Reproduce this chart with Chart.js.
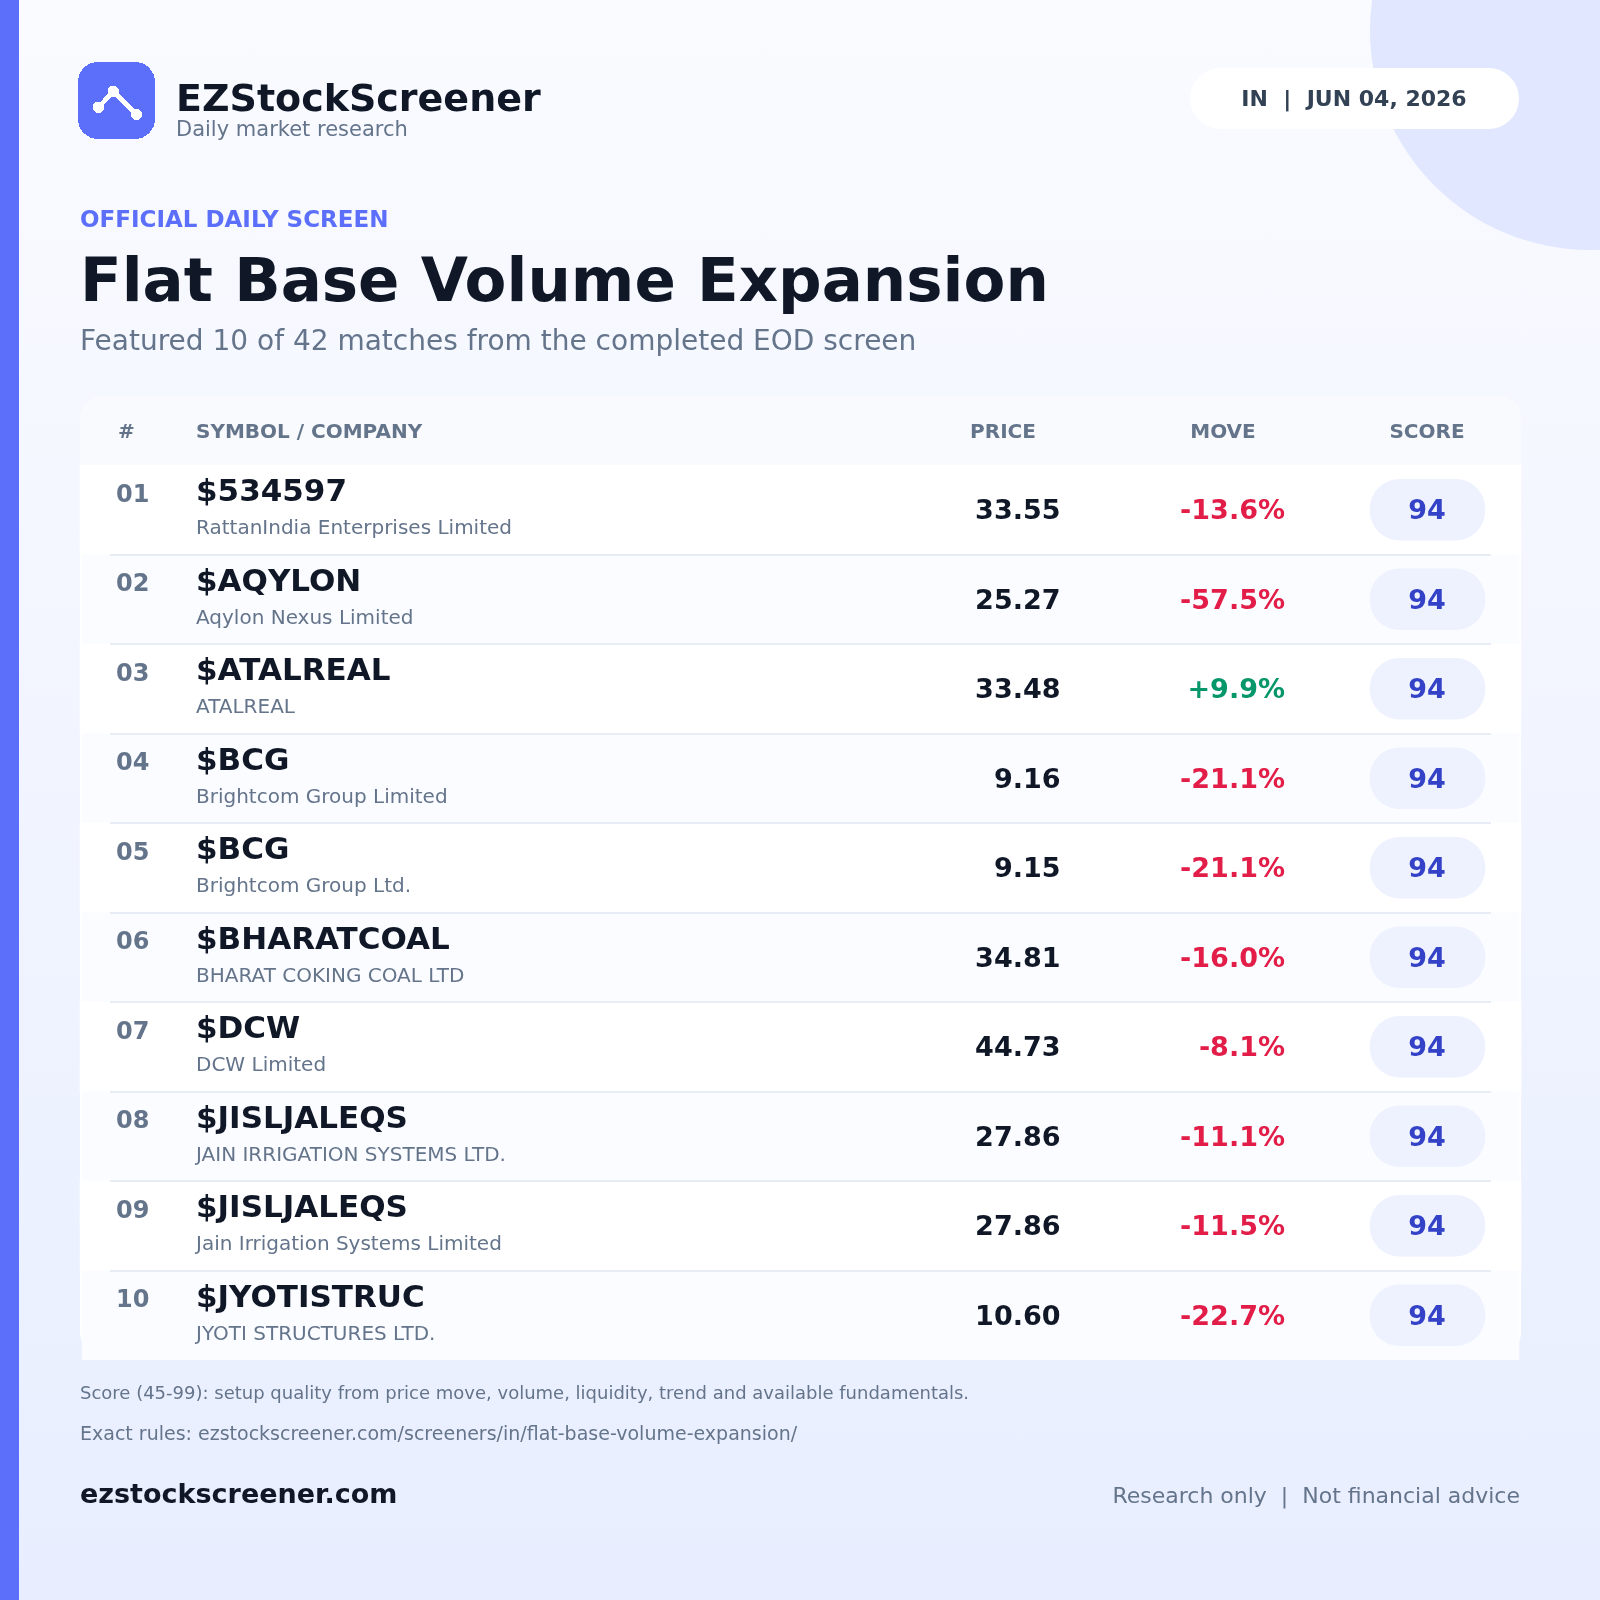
<!DOCTYPE html>
<html>
<head>
<meta charset="utf-8">
<title>Flat Base Volume Expansion</title>
<script src="https://cdn.jsdelivr.net/npm/chart.js@4"></script>
<style>
html, body { margin: 0; padding: 0; width: 1600px; height: 1600px; overflow: hidden; }
body { position: relative; background: linear-gradient(180deg, #fafbff 0%, #e8eeff 100%); font-family: "DejaVu Sans", sans-serif; }
.abs { position: absolute; }
#stripe { left: 0; top: 0; width: 19px; height: 1600px; background: #5b6ffb; }
#circle { left: 1370px; top: -190px; width: 440px; height: 440px; border-radius: 50%; background: #e0e7ff; }
#pill { left: 1190px; top: 68px; width: 329px; height: 61px; border-radius: 31px; background: #fff; }
#card { left: 80px; top: 396px; width: 1441px; height: 960px; border-radius: 24px; background: #fff; overflow: hidden; }
#cardhead { left: 0; top: 0; width: 1441px; height: 69px; background: #f9fafd; }
#logo { left: 78px; top: 62px; }
canvas { position: absolute; left: 0; top: 0; }
</style>
</head>
<body>
<div class="abs" id="stripe"></div>
<div class="abs" id="circle"></div>
<div class="abs" id="pill"></div>
<div class="abs" id="card"><div class="abs" id="cardhead"></div></div>
<svg class="abs" id="logo" width="77" height="77" viewBox="0 0 77 77" shape-rendering="crispEdges">
  <rect width="77" height="77" rx="20" fill="#5b6ffb"/>
  <polyline points="20.3,45.3 35.3,29.3 58.3,52.3" fill="none" stroke="#fff" stroke-width="4.5"/>
  <circle cx="20.3" cy="45.3" r="5.7" fill="#fff"/>
  <circle cx="35.3" cy="29.3" r="5.7" fill="#fff"/>
  <circle cx="58.3" cy="52.3" r="5.7" fill="#fff"/>
</svg>
<canvas id="chartTable" width="1600" height="1600"></canvas>
<script>
var ranks = ['01', '02', '03', '04', '05', '06', '07', '08', '09', '10'];
var symbols = ['$534597', '$AQYLON', '$ATALREAL', '$BCG', '$BCG', '$BHARATCOAL', '$DCW', '$JISLJALEQS', '$JISLJALEQS', '$JYOTISTRUC'];
var companies = ['RattanIndia Enterprises Limited', 'Aqylon Nexus Limited', 'ATALREAL', 'Brightcom Group Limited', 'Brightcom Group Ltd.',
    'BHARAT COKING COAL LTD', 'DCW Limited', 'JAIN IRRIGATION SYSTEMS LTD.', 'Jain Irrigation Systems Limited', 'JYOTI STRUCTURES LTD.'];
var prices = [33.55, 25.27, 33.48, 9.16, 9.15, 34.81, 44.73, 27.86, 27.86, 10.60];
var moves = [-13.6, -57.5, 9.9, -21.1, -21.1, -16.0, -8.1, -11.1, -11.5, -22.7];
var scores = [94, 94, 94, 94, 94, 94, 94, 94, 94, 94];
var headers = ['#', 'SYMBOL / COMPANY', 'PRICE', 'MOVE', 'SCORE'];

var DARK = '#101828', MUTED = '#64748b', RED = '#e11d48', GREEN = '#059669', BLUE = '#3342c6';
var FONT = '"DejaVu Sans"';

// x scale runs in page pixels, the score axis puts 0 at the pill's left edge
var PILL_LEFT = 1370, PILL_WIDTH = 115, W = 1600;
var scoreUnit = PILL_WIDTH / Math.max.apply(null, scores);

function text(ctx, str, x, y, font, color, align) {
    ctx.font = font + ' ' + FONT;
    ctx.fillStyle = color;
    ctx.textAlign = align || 'left';
    ctx.textBaseline = 'alphabetic';
    ctx.fillText(str, x, Math.round(y));
}

var tablePlugin = {
    id: 'tablePlugin',
    afterDatasetsDraw: function (chart) {
        var ctx = chart.ctx, x = chart.scales.x, y = chart.scales.y;
        ctx.save();

        // separators sit on the band edges
        ctx.fillStyle = '#e8ecf5';
        for (var s = 0; s < ranks.length - 1; s++) {
            ctx.fillRect(x.getPixelForValue(110), Math.round(y.getPixelForValue(s + 0.5)) - 1, 1381, 2);
        }

        for (var i = 0; i < ranks.length; i++) {
            var cy = y.getPixelForValue(i);
            text(ctx, symbols[i], x.getPixelForValue(196), cy - 8.5, 'bold 31px', DARK);
            text(ctx, companies[i], x.getPixelForValue(196), cy + 24.5, '20px', MUTED);
            text(ctx, prices[i].toFixed(2), x.getPixelForValue(1060.5), cy + 9.5, 'bold 27px', DARK, 'right');
            var m = (moves[i] > 0 ? '+' : '') + moves[i].toFixed(1) + '%';
            text(ctx, m, x.getPixelForValue(1285), cy + 9.5, 'bold 27px', moves[i] > 0 ? GREEN : RED, 'right');
            text(ctx, String(scores[i]), x.getPixelForValue(1427), cy + 9.5, 'bold 27px', BLUE, 'center');
        }

        // table head
        text(ctx, headers[0], 118, 438, 'bold 20px', MUTED);
        text(ctx, headers[1], 196, 438, 'bold 20px', MUTED);
        text(ctx, headers[2], 1003, 438, 'bold 20px', MUTED, 'center');
        text(ctx, headers[3], 1223, 438, 'bold 20px', MUTED, 'center');
        text(ctx, headers[4], 1427, 438, 'bold 20px', MUTED, 'center');

        // page text
        text(ctx, 'EZStockScreener', 176, 111, 'bold 38px', DARK);
        text(ctx, 'Daily market research', 176, 136, '21px', MUTED);
        text(ctx, 'IN  |  JUN 04, 2026', 1354, 106, 'bold 22px', '#334155', 'center');
        text(ctx, 'OFFICIAL DAILY SCREEN', 80, 227, 'bold 23px', '#5b6ffb');
        text(ctx, 'Flat Base Volume Expansion', 80, 301, 'bold 61px', DARK);
        text(ctx, 'Featured 10 of 42 matches from the completed EOD screen', 80, 350, '28px', MUTED);
        text(ctx, 'Score (45-99): setup quality from price move, volume, liquidity, trend and available fundamentals.', 80, 1399, '18px', MUTED);
        text(ctx, 'Exact rules: ezstockscreener.com/screeners/in/flat-base-volume-expansion/', 80, 1440, '19px', MUTED);
        text(ctx, 'ezstockscreener.com', 80, 1503, 'bold 27px', DARK);
        text(ctx, 'Research only  |  Not financial advice', 1520, 1503, '22px', MUTED, 'right');
        ctx.restore();
    }
};

var ctx = document.getElementById('chartTable');

var chartTable = new Chart(ctx, {
    type: 'bar',
    plugins: [tablePlugin],
    data: {
        labels: ranks,
        datasets: [{
            label: 'Score',
            data: scores,
            xAxisID: 'xScore',
            backgroundColor: '#eef2ff',
            borderRadius: 30,
            borderSkipped: false,
            barThickness: 61,
            grouped: false,
            order: 1
        }, {
            label: 'Rows',
            data: ranks.map(function (r, i) { return i % 2 ? [82, 1519] : [80, 1521]; }),
            xAxisID: 'x',
            backgroundColor: ranks.map(function (r, i) { return i % 2 ? '#fbfcff' : '#ffffff'; }),
            barPercentage: 1,
            categoryPercentage: 1,
            grouped: false,
            order: 2
        }]
    },
    options: {
        indexAxis: 'y',
        responsive: false,
        animation: false,
        events: [],
        layout: { padding: { top: 465, bottom: 240, left: 0, right: 0 } },
        plugins: { legend: { display: false }, tooltip: { enabled: false } },
        scales: {
            x: { type: 'linear', display: false, min: 0, max: W },
            xScore: { type: 'linear', display: false, min: -PILL_LEFT / scoreUnit, max: (W - PILL_LEFT) / scoreUnit },
            y: {
                type: 'category',
                border: { display: false },
                grid: { display: false, drawTicks: false },
                afterFit: function (scale) { scale.width = 0; },
                ticks: {
                    mirror: true,
                    padding: 116,
                    labelOffset: -14,
                    z: 1,
                    color: MUTED,
                    font: { family: FONT, size: 24, weight: 'bold' }
                }
            }
        }
    }
});
</script>
</body>
</html>
